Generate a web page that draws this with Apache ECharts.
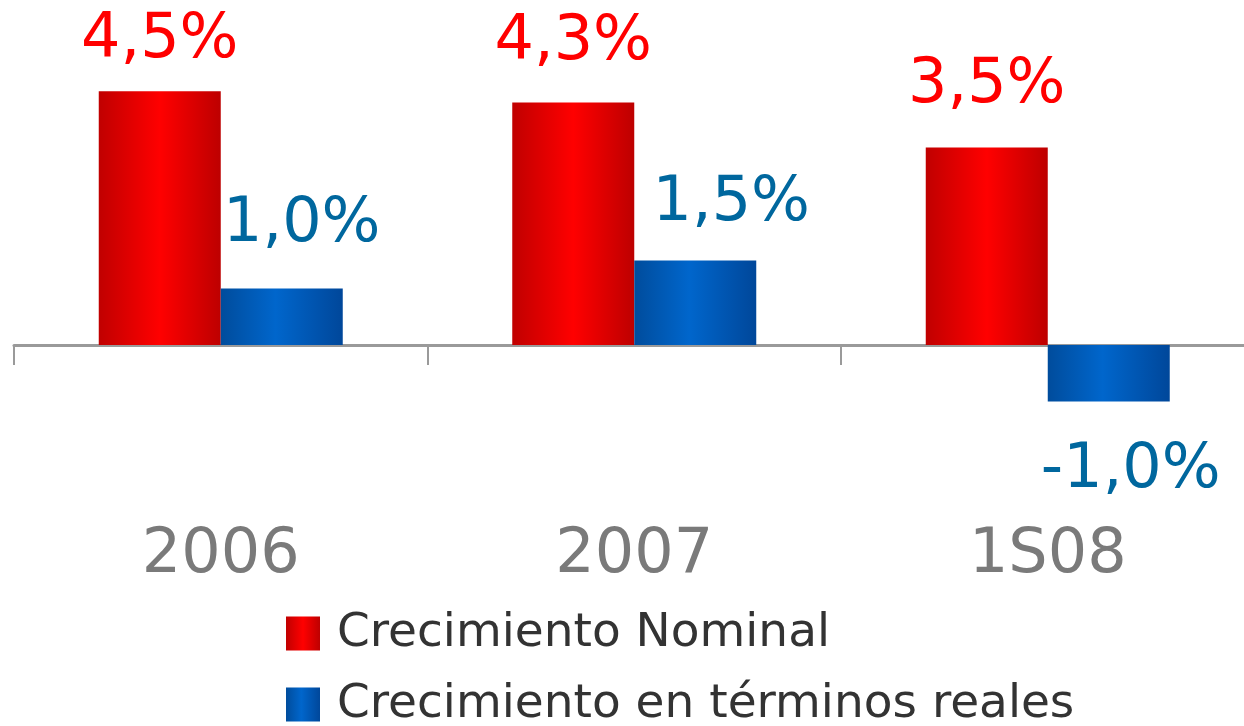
<!DOCTYPE html>
<html>
<head>
<meta charset="utf-8">
<script src="https://cdn.jsdelivr.net/npm/echarts@6/dist/echarts.min.js"></script>
<style>html,body{margin:0;padding:0;background:#fff;overflow:hidden;}#c{width:1264px;height:726px;}</style>
</head>
<body>
<div id="c"></div>
<script>
const categories = ['2006', '2007', '1S08'];
const nominal = [4.5, 4.3, 3.5];
const real = [1.0, 1.5, -1.0];
const seriesNames = ['Crecimiento Nominal', 'Crecimiento en términos reales'];

const FONT = '"DejaVu Sans", sans-serif';
const fmt = v => v.toFixed(1).replace('.', ',') + '%';

const redDist = [19, 29, 31];
const blueDist = [33, 26, 38];
const blueOff = [20, 36, 22];

const redGrad = {type:'linear',x:0,y:0,x2:1,y2:0,colorStops:[
  {offset:0,color:'#c00000'},{offset:0.5,color:'#ff0000'},{offset:1,color:'#bd0000'}]};
const blueGrad = {type:'linear',x:0,y:0,x2:1,y2:0,colorStops:[
  {offset:0,color:'#004c9c'},{offset:0.45,color:'#0066cc'},{offset:1,color:'#00479a'}]};

const legendBase = {
  orient: 'vertical', left: 286, padding: 0,
  itemWidth: 34, itemHeight: 34, icon: 'rect',
  textStyle: {fontSize: 47, color: '#333333', fontFamily: FONT, padding: [0,0,0,12]}
};

const chart = echarts.init(document.getElementById('c'), null, {renderer:'canvas'});
chart.setOption({
  animation: false,
  backgroundColor: '#ffffff',
  grid: {left: 14, width: 1240.5, top: 63, bottom: 268.2, containLabel: false},
  xAxis: {
    type: 'category',
    data: categories,
    axisLine: {onZero: true, lineStyle: {color: '#9a9a9a', width: 3}},
    axisTick: {show: true, length: 20, lineStyle: {color: '#9a9a9a', width: 2}},
    axisLabel: {margin: 67, fontSize: 62, color: '#7a7a7a', fontFamily: FONT}
  },
  yAxis: {
    type: 'value', min: -2, max: 5, interval: 1,
    show: false, splitLine: {show: false}
  },
  legend: [
    Object.assign({}, legendBase, {top: 610, data: [seriesNames[0]]}),
    Object.assign({}, legendBase, {top: 681, data: [seriesNames[1]]})
  ],
  series: [
    {
      name: seriesNames[0], type: 'bar', barWidth: 122, barGap: '0%',
      itemStyle: {color: redGrad},
      data: nominal.map((v, i) => ({value: v, label: {distance: redDist[i]}})),
      label: {show: true, position: 'top', fontSize: 62, color: '#ff0000', fontFamily: FONT,
              formatter: p => fmt(p.value)}
    },
    {
      name: seriesNames[1], type: 'bar', barWidth: 122, barGap: '0%',
      itemStyle: {color: blueGrad},
      data: real.map((v, i) => ({value: v, label: {position: v < 0 ? 'bottom' : 'top', distance: blueDist[i], offset: [blueOff[i], 0]}})),
      label: {show: true, fontSize: 62, color: '#00679e', fontFamily: FONT,
              formatter: p => fmt(p.value)}
    }
  ]
});
</script>
</body>
</html>
